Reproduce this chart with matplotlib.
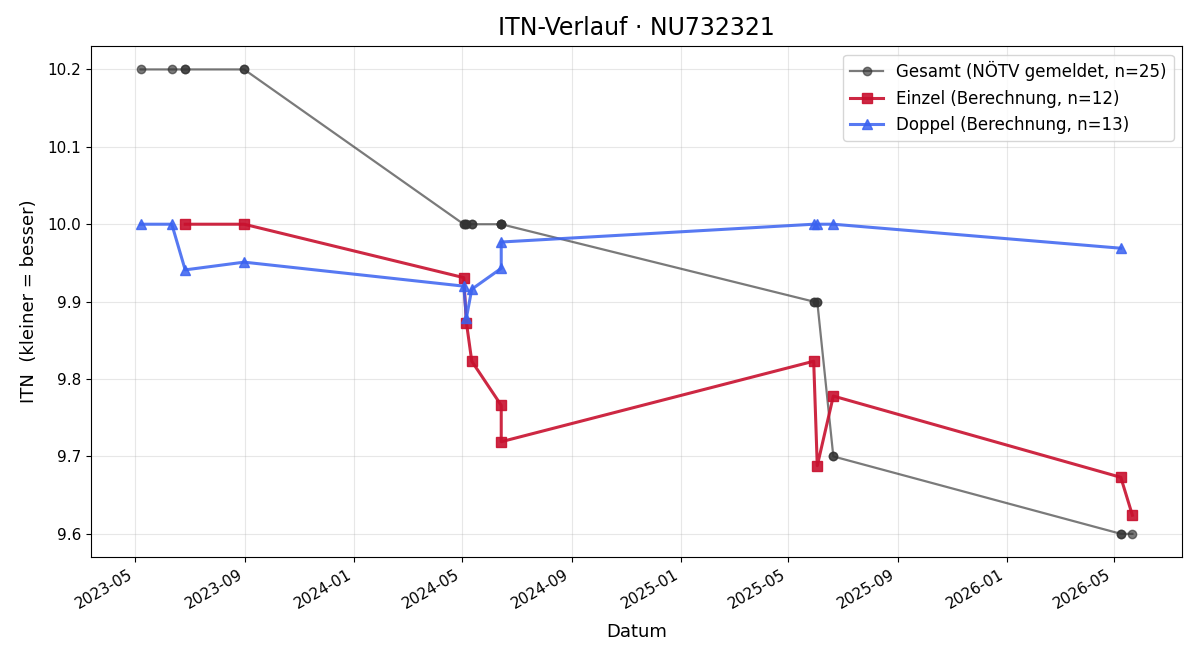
import matplotlib
matplotlib.use("Agg")
import matplotlib.pyplot as plt
import matplotlib.dates as mdates
import pandas as pd

# Einzel (singles) calculated ITN
einzel_dates = ["2023-06-26", "2023-08-31", "2024-05-03", "2024-05-06", "2024-05-12",
                "2024-06-14", "2024-06-14", "2025-05-30", "2025-06-03", "2025-06-21",
                "2026-05-09", "2026-05-22"]
einzel_values = [10.0, 10.0, 9.931, 9.873, 9.823, 9.766, 9.719, 9.823, 9.688, 9.778,
                 9.673, 9.624]

# Doppel (doubles) calculated ITN
doppel_dates = ["2023-05-07", "2023-06-11", "2023-06-26", "2023-08-31", "2024-05-03",
                "2024-05-06", "2024-05-12", "2024-06-14", "2024-06-14", "2025-05-30",
                "2025-06-03", "2025-06-21", "2026-05-09"]
doppel_values = [10.0, 10.0, 9.941, 9.951, 9.920, 9.879, 9.916, 9.943, 9.977, 10.0,
                 10.0, 10.0, 9.969]

# Gesamt (reported) ITN
gesamt_dates = ["2023-05-07", "2023-06-11", "2023-06-26", "2023-06-26", "2023-08-31",
                "2023-08-31", "2024-05-03", "2024-05-03", "2024-05-06", "2024-05-06",
                "2024-05-12", "2024-05-12", "2024-06-14", "2024-06-14", "2024-06-14",
                "2024-06-14", "2025-05-30", "2025-05-30", "2025-06-03", "2025-06-03",
                "2025-06-21", "2025-06-21", "2026-05-09", "2026-05-09", "2026-05-22"]
gesamt_values = [10.2, 10.2, 10.2, 10.2, 10.2, 10.2, 10.0, 10.0, 10.0, 10.0,
                 10.0, 10.0, 10.0, 10.0, 10.0, 10.0, 9.9, 9.9, 9.9, 9.9,
                 9.7, 9.7, 9.6, 9.6, 9.6]

title = "ITN-Verlauf · NU732321"

fig, ax = plt.subplots(figsize=(12, 6.6), dpi=100)

ax.plot(pd.to_datetime(gesamt_dates), gesamt_values, color="#333333", alpha=0.65,
        marker="o", markersize=6, linewidth=1.6,
        label=f"Gesamt (NÖTV gemeldet, n={len(gesamt_values)})")
ax.plot(pd.to_datetime(einzel_dates), einzel_values, color="#C8102E", alpha=0.9,
        marker="s", markersize=7.5, linewidth=2.2,
        label=f"Einzel (Berechnung, n={len(einzel_values)})")
ax.plot(pd.to_datetime(doppel_dates), doppel_values, color="#3A62F0", alpha=0.85,
        marker="^", markersize=7.5, linewidth=2.2,
        label=f"Doppel (Berechnung, n={len(doppel_values)})")

ax.set_title(title, fontsize=17, pad=8)
ax.set_xlabel("Datum", fontsize=13, labelpad=8)
ax.set_ylabel("ITN  (kleiner = besser)", fontsize=13, labelpad=7)
ax.tick_params(labelsize=11)
ax.grid(True, alpha=0.3)
ax.legend(loc="upper right", fontsize=12)

ax.xaxis.set_major_locator(mdates.MonthLocator(bymonth=[1, 5, 9]))
ax.xaxis.set_major_formatter(mdates.DateFormatter("%Y-%m"))
fig.autofmt_xdate()

fig.subplots_adjust(left=0.0758, right=0.985, top=0.930, bottom=0.156)
fig.savefig("out.png", dpi=100)
